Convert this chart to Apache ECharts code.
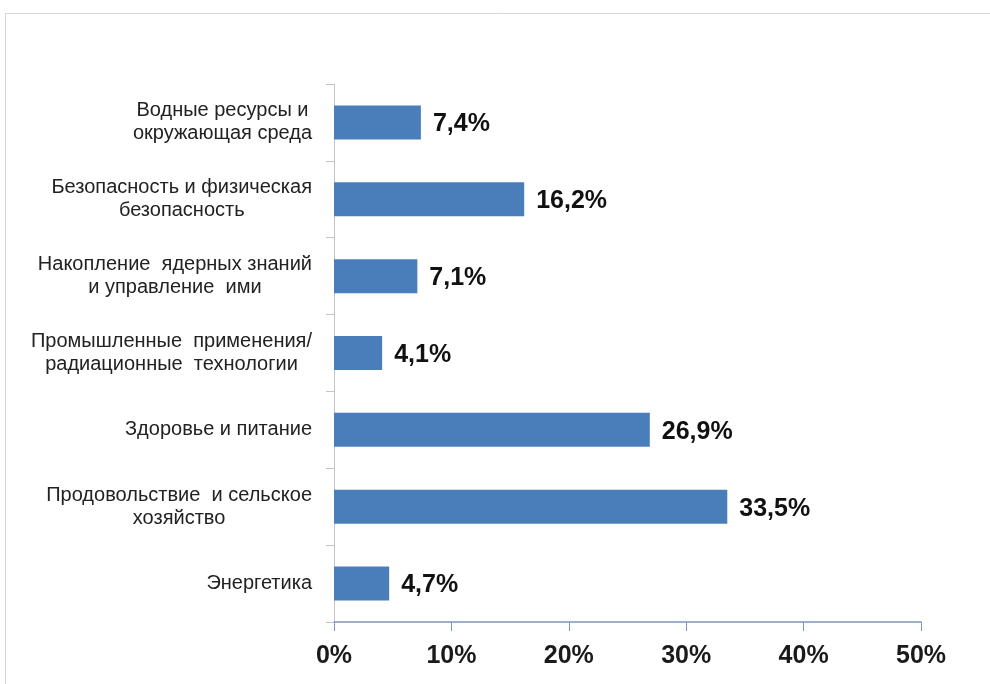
<!DOCTYPE html>
<html>
<head>
<meta charset="utf-8">
<script src="https://cdn.jsdelivr.net/npm/echarts@6/dist/echarts.min.js"></script>
<style>
  html, body { margin: 0; padding: 0; background: #fff; }
  #main { width: 990px; height: 684px; }
</style>
</head>
<body>
<div id="main"></div>
<script>
// категории сверху вниз
var categories = [
    'Водные ресурсы и\nокружающая среда',
    'Безопасность и физическая\nбезопасность',
    'Накопление  ядерных знаний\nи управление  ими',
    'Промышленные  применения/\nрадиационные  технологии',
    'Здоровье и питание',
    'Продовольствие  и сельское\nхозяйство',
    'Энергетика'
];
var shares = [7.4, 16.2, 7.1, 4.1, 26.9, 33.5, 4.7];
var tickLabels = ['0%', '10%', '20%', '30%', '40%', '50%'];

var fmt = function (v) {
    return v.toFixed(1).replace('.', ',') + '%';
};

var myChart = echarts.init(document.getElementById('main'));
var option = {
    animation: false,
    graphic: [{
        type: 'rect',
        shape: { x: 5.5, y: 13.5, width: 1000, height: 700 },
        style: { fill: 'none', stroke: '#d6d6d6', lineWidth: 1 }
    }],
    grid: { left: 334, right: 69, top: 84, bottom: 62 },
    xAxis: {
        type: 'value',
        min: 0,
        max: 50,
        interval: 10,
        splitLine: { show: false },
        axisLine: { show: true, lineStyle: { color: '#7f97b5', width: 1.5 } },
        axisTick: { show: true, length: 9, lineStyle: { color: '#7f97b5' } },
        axisLabel: {
            margin: 22,
            color: '#1a1a1a',
            fontSize: 25,
            fontWeight: 'bold',
            fontFamily: 'Liberation Sans, Arial, sans-serif',
            formatter: function (v) { return tickLabels[v / 10]; }
        }
    },
    yAxis: {
        type: 'category',
        inverse: true,
        data: categories,
        axisLine: { show: true, lineStyle: { color: '#c4c4c4' } },
        axisTick: { show: true, length: 8, lineStyle: { color: '#c4c4c4' } },
        axisLabel: {
            margin: 22,
            formatter: function (v) {
                return v.split('\n').map(function (s) { return '{a|' + s + '}'; }).join('\n');
            },
            rich: {
                a: {
                    align: 'center',
                    color: '#222',
                    fontSize: 20,
                    lineHeight: 23,
                    fontFamily: 'Liberation Sans, Arial, sans-serif'
                }
            }
        }
    },
    series: [{
        type: 'bar',
        data: shares,
        barWidth: 34,
        itemStyle: { color: '#4a7ebb' },
        label: {
            show: true,
            position: 'right',
            distance: 12,
            offset: [0, 2],
            color: '#111',
            fontSize: 25,
            fontWeight: 'bold',
            fontFamily: 'Liberation Sans, Arial, sans-serif',
            formatter: function (p) { return fmt(p.value); }
        }
    }]
};
myChart.setOption(option);
</script>
</body>
</html>
